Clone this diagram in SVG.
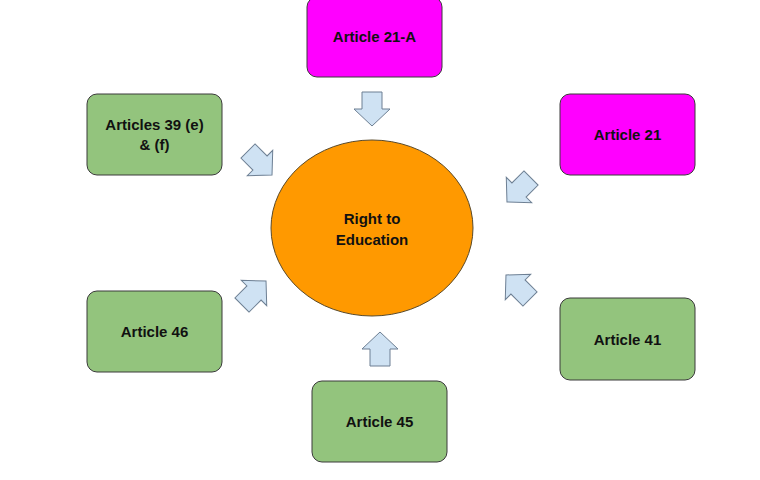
<svg xmlns="http://www.w3.org/2000/svg" width="760" height="480" viewBox="0 0 760 480">
<defs>
<style>
.box{stroke:#3a3a3a;stroke-width:1}
.m{fill:#ff00ff}.g{fill:#93c47d}
.t{font-family:"Liberation Sans",Arial,sans-serif;font-weight:bold;font-size:15px;fill:#111;text-anchor:middle}
.ar{fill:#cfe2f3;stroke:#6d7f93;stroke-width:1}
</style>
<polygon id="arr" class="ar" points="-10,-17 10,-17 10,0 18,0 0,17 -18,0 -10,0"/>
</defs>
<rect width="760" height="480" fill="#fff"/>
<g id="center">
<ellipse cx="372" cy="228" rx="101" ry="88" fill="#ff9900" stroke="#5a4a2a" stroke-width="1"/>
<text class="t" x="372" y="224">Right to</text>
<text class="t" x="372" y="245">Education</text>
</g>
<g id="a21a"><rect class="box m" x="307" y="-3" width="135" height="80" rx="10"/><text class="t" x="374.5" y="42">Article 21-A</text></g>
<g id="a39"><rect class="box g" x="87" y="94" width="135" height="81" rx="10"/><text class="t" x="154.5" y="130">Articles 39 (e)</text><text class="t" x="154.5" y="150">&amp; (f)</text></g>
<g id="a21"><rect class="box m" x="560" y="94" width="135" height="81" rx="10"/><text class="t" x="627.5" y="140">Article 21</text></g>
<g id="a46"><rect class="box g" x="87" y="291" width="135" height="81" rx="10"/><text class="t" x="154.5" y="337">Article 46</text></g>
<g id="a41"><rect class="box g" x="560" y="298" width="135" height="82" rx="10"/><text class="t" x="627.5" y="345">Article 41</text></g>
<g id="a45"><rect class="box g" x="312" y="381" width="135" height="81" rx="10"/><text class="t" x="379.5" y="427">Article 45</text></g>
<g id="connectors">
<use href="#arr" transform="translate(372,109)"/>
<use href="#arr" transform="translate(380,349) rotate(180)"/>
<use href="#arr" transform="translate(260,163) rotate(-45)"/>
<use href="#arr" transform="translate(519,190) rotate(45)"/>
<use href="#arr" transform="translate(254,293) rotate(-135)"/>
<use href="#arr" transform="translate(518,287) rotate(135)"/>
</g>
</svg>
